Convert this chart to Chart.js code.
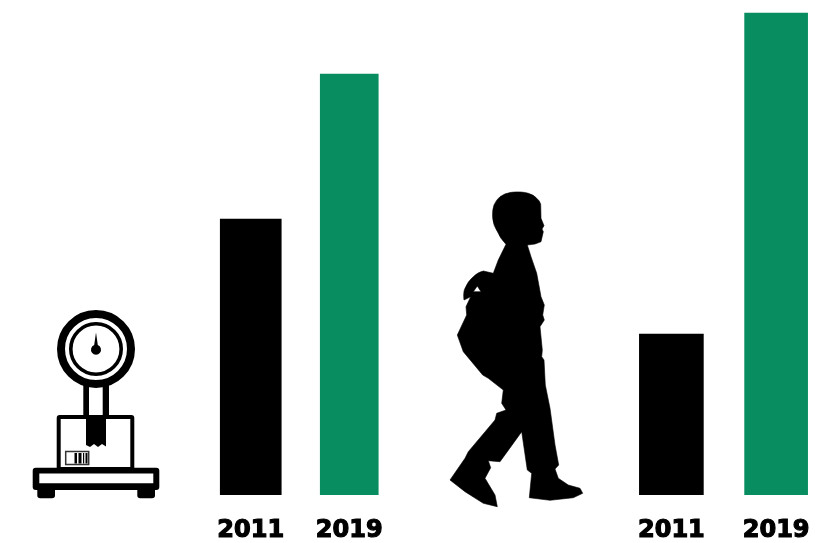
<!DOCTYPE html>
<html>
<head>
<meta charset="utf-8">
<script src="https://cdn.jsdelivr.net/npm/chart.js@4/dist/chart.umd.min.js"></script>
<style>
html,body{margin:0;padding:0;background:#fff;width:834px;height:543px;overflow:hidden}
canvas,svg{position:absolute;top:0}
#c1{left:180px}
#c2{left:600px}
svg{left:0}
</style>
</head>
<body>
<svg width="834" height="543" viewBox="0 0 834 543">
  <!-- scale icon -->
  <g>
    <circle cx="96" cy="349" r="35" fill="none" stroke="#000" stroke-width="8"/>
    <circle cx="96" cy="349" r="25.2" fill="none" stroke="#000" stroke-width="3.6"/>
    <path d="M96 332.5 L97.8 345 A5 5 0 1 1 94.2 345 Z" fill="#000"/>
    <path d="M83.3 385 H89 V415 H83.3 Z M102.7 385 H109 V415 H102.7 Z" fill="#000"/>
    <rect x="58.7" y="417" width="73.6" height="52" rx="1" fill="none" stroke="#000" stroke-width="4"/>
    <path d="M86 415 H106 V446.5 L102 444 L98 447 L94 444 L90 447 L86 445 Z" fill="#000"/>
    <rect x="65.7" y="451.5" width="23" height="13" fill="none" stroke="#333" stroke-width="1.5"/>
    <path d="M74.5 453 h2.5 v10.5 h-2.5 Z M78.5 453 h3 v10.5 h-3 Z M83 453 h1.2 v10.5 h-1.2 Z M85.5 453 h2 v10.5 h-2 Z" fill="#000"/>
    <path fill-rule="evenodd" fill="#000" d="M35.7 467.7 H156.3 Q159.3 467.7 159.3 470.7 V487 Q159.3 490 156.3 490 H35.7 Q32.7 490 32.7 487 V470.7 Q32.7 467.7 35.7 467.7 Z M39.3 473.5 V483.3 H153.3 V473.5 Z"/>
    <path d="M37.3 489 H55 V495.5 Q55 498.3 52 498.3 H40.3 Q37.3 498.3 37.3 495.5 Z M137.3 489 H155 V495.5 Q155 498.3 152 498.3 H140.3 Q137.3 498.3 137.3 495.5 Z" fill="#000"/>
  </g>
  <!-- walking boy silhouette -->
  <path fill="#000" fill-rule="evenodd" stroke="#000" stroke-width="0.6" stroke-linejoin="round" d="M511.7 192.3 C518 191.5 524 192 528.3 193.3 Q534 195 536.7 198.3 Q540 201 540.7 204.3 L541 218.3 L544 225.7 L542 229 L543.3 231.7 L541 241.7 L535 244 L527.3 245 L531 256.7 L536.7 273.3 L541 296.7 L544.3 305 L542.7 315 L544.3 320 L540 326.7 L542.3 350 L541.7 356.7 L544 360 L545.3 385 L550 408.3 L555 445 L558.7 465 L555 469 L558.3 478.3 L568.3 485 L580 488.3 L582.7 493.3 L573.3 497.7 L550 500.3 L529.3 497.7 L531.7 473.3 L527.3 470 L521.7 431.7 L500 461.7 L488.3 460.7 L490.7 467.7 L485 478.3 L495 495 L497.3 506.7 L483.3 503.3 L465 491.7 L450 480 L465 458.3 L468.3 451.7 L495 420 L496.7 413.3 L506 410 L501.7 403.3 L503.3 390 L488.3 378.3 L482.7 375 L463.3 351.7 L457.3 335 L466.7 315 L466 306.7 L470.7 296.7 L464 300 Q463 292 465 288.3 Q468 281 473.3 276.7 Q478 272 483.3 271 L493.3 273.3 L498.3 260 L506 244.3 Q500 238 498.3 233.3 Q493 225 492.7 218.3 Q492 210 494 205 Q496 200 500 196.7 Q505 193 511.7 192.3 Z M473.3 291.7 L477.3 286 L481 291.7 Z"/>
</svg>
<canvas id="c1" width="240" height="543" style="width:240px;height:543px"></canvas>
<canvas id="c2" width="234" height="543" style="width:234px;height:543px"></canvas>
<script>
const years = ["2011", "2019"];
const scaleValues = [276, 421];
const boyValues = [161, 482];
const barColors = ["#000000", "#078d5f"];
const yMax = 495;

function makeChart(id, values, thicknesses, padLeft, padRight) {
  const datasets = values.map((v, i) => ({
    data: values.map((_, j) => (j === i ? v : null)),
    backgroundColor: barColors[i],
    borderWidth: 0,
    barThickness: thicknesses[i],
    grouped: false
  }));
  new Chart(document.getElementById(id), {
    type: "bar",
    data: { labels: years, datasets },
    options: {
      responsive: false,
      animation: false,
      devicePixelRatio: 1,
      layout: { padding: { left: padLeft, right: padRight, top: 0, bottom: 0 } },
      plugins: { legend: { display: false }, tooltip: { enabled: false } },
      scales: {
        y: { display: false, min: 0, max: yMax },
        x: {
          grid: { display: false, drawTicks: false },
          border: { display: false },
          afterFit(scale) { scale.height = 48; },
          ticks: {
            color: "#000",
            padding: 21,
            autoSkip: false,
            maxRotation: 0,
            textStrokeColor: "#000",
            textStrokeWidth: 1.2,
            font: { family: "DejaVu Sans", weight: "bold", size: 24 }
          }
        }
      }
    }
  });
}
makeChart("c1", scaleValues, [61, 58], 21.5, 21.5);
makeChart("c2", boyValues, [64, 63], 19, 5.5);
</script>
</body>
</html>
